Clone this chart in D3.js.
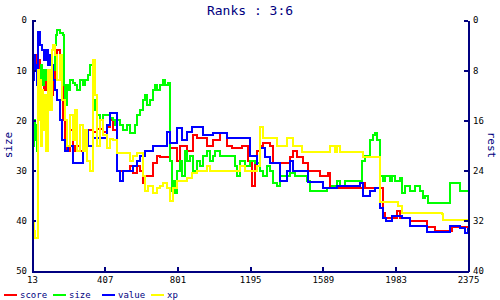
<!DOCTYPE html>
<html>
<head>
<meta charset="utf-8">
<script src="https://cdn.jsdelivr.net/npm/d3@7"></script>
<style>
  body { margin: 0; background: #fff; }
  text { font-family: "DejaVu Sans Mono", monospace; }
</style>
</head>
<body>
<div id="chart"></div>
<script>
// tick labels
var xTicks = [13, 407, 801, 1195, 1589, 1983, 2375];
var leftTicks = [0, 10, 20, 30, 40, 50];
var rightTicks = [0, 8, 16, 24, 32, 40];

var names = ["score", "size", "value", "xp"];
var colours = ["#ff0000", "#00ff00", "#0000ff", "#ffff00"];

// [turn, rank] step points
var score = [[13,9],[18,12],[24,8],[29,10],[35,7],[40,9],[46,11],[51,8],[56,10],[62,11],[67,12],[73,10],[78,14],[89,11],[100,15],[111,17],[121,15],[127,12],[138,7],[148,6],[165,8],[176,10],[181,20],[192,24],[203,26],[219,22],[235,26],[246,25],[273,26],[289,23],[316,22],[343,22.3],[365,21.8],[398,22.3],[419,21.3],[436,20],[452,22],[473,30],[506,30],[544,29],[560,30.5],[582,29],[598,30],[614,32.5],[625,31],[641,31],[668,28.5],[690,27],[706,27.3],[744,27.3],[761,25.5],[799,28],[815,25],[853,26],[885,23],[907,23.5],[939,23.5],[961,25],[994,24],[1031,22.5],[1069,25],[1096,25.5],[1151,25],[1183,28],[1204,33],[1221,28],[1232,26],[1248,25],[1264,24.5],[1302,25],[1319,28.5],[1410,27.3],[1427,26],[1448,27.3],[1481,28.5],[1508,30],[1573,31],[1600,31],[1616,30.5],[1627,33.5],[1790,33.5],[1806,32.5],[1817,33.5],[1898,33.5],[1914,38.5],[1925,39.5],[1990,38],[2006,39.5],[2060,40],[2153,41.2],[2196,42],[2250,42],[2290,41.2],[2375,41.2]];

var size = [[13,22],[18,25],[24,20],[29,24],[35,21],[40,26],[46,13],[51,10],[56,12],[62,9],[67,11],[73,13],[78,10],[89,12],[100,11],[111,13],[121,12],[127,10],[138,5],[143,3],[148,2],[165,2.5],[181,3],[186,13],[192,17],[203,13],[208,14],[219,12],[235,12.5],[246,13],[257,14],[273,12],[289,13],[300,12],[316,11],[327,9],[343,16],[354,18],[365,19],[381,20],[398,19],[419,19],[436,19.5],[452,20],[463,21],[473,20],[490,21],[506,22],[528,21],[544,22.5],[571,21],[582,19],[598,18],[614,16],[625,15],[636,17],[652,16],[668,14],[679,13],[690,14],[706,13],[723,12],[734,13],[750,12.5],[761,28],[771,34],[777,32],[788,34.5],[799,30],[815,28],[826,31],[842,26],[853,28],[869,27],[885,30],[907,28],[923,29],[939,27],[961,26],[977,28],[994,27],[1004,26],[1031,27],[1086,27],[1113,29],[1123,31],[1140,28],[1167,29],[1194,28],[1221,28.5],[1248,30],[1264,31],[1286,29],[1302,30],[1319,32.5],[1340,33],[1356,31],[1383,31],[1410,30.5],[1437,31],[1465,31],[1492,31],[1502,32],[1519,34],[1573,34],[1611,33.5],[1638,33],[1665,32],[1681,33],[1708,32],[1752,32],[1800,28],[1817,27],[1844,24],[1860,23],[1871,22.5],[1882,24],[1898,31],[1914,32],[1925,31],[1952,32],[1963,31],[1979,32],[2006,31.5],[2017,34.5],[2033,33],[2060,34],[2088,33],[2115,34],[2131,35.5],[2142,35],[2158,36.5],[2250,36.5],[2277,32.5],[2331,34],[2375,34]];

var value = [[13,8],[18,12],[24,7],[29,10],[35,9],[40,13],[46,2.4],[56,5],[67,6],[78,8],[89,6],[100,9],[111,7],[121,9],[127,12],[138,14],[148,16],[165,20],[176,24],[192,26],[208,25],[235,28.5],[273,28.5],[289,24],[300,22],[316,25],[343,23.5],[398,23.5],[419,21],[436,18.5],[452,18.5],[473,30],[490,32],[506,30],[544,30],[560,29],[582,28],[598,27],[625,26],[652,26],[668,25],[690,25],[723,25],[744,22.3],[761,24.5],[799,21.5],[826,24],[853,22.3],[880,21.3],[923,21.3],[939,23],[994,22.5],[1048,22.5],[1069,23.5],[1178,23.5],[1194,27],[1232,29],[1248,25.5],[1275,27.3],[1302,28.5],[1356,32],[1394,30],[1410,28],[1427,30],[1465,30],[1508,32.3],[1589,33.5],[1665,33],[1719,33],[1790,32.5],[1806,35],[1844,34],[1871,33.5],[1898,37.5],[1914,39.5],[1930,40],[1963,39],[2017,39.5],[2060,41],[2153,42.3],[2277,41],[2331,41.5],[2358,42.5],[2375,41.5]];

var xp = [[13,36],[18,40],[24,42],[29,43.5],[40,43.5],[46,10],[51,20],[56,12],[62,25],[67,14],[73,22],[78,15],[89,26],[100,10],[111,18],[121,6],[127,5],[138,7],[148,12],[165,7],[176,16],[192,20],[203,25],[219,19],[235,24],[246,18],[257,26],[273,21],[289,26],[300,22],[311,28],[327,30],[343,8],[354,15],[365,25],[381,20],[398,23],[419,25.5],[436,23.8],[452,24],[473,26.5],[528,26.5],[544,28],[560,27],[582,26.5],[614,31],[625,34],[641,33],[668,34.5],[690,33.5],[706,33],[723,32.5],[744,33.5],[761,36],[777,33.5],[799,32],[853,31.5],[880,30.5],[907,30],[961,29],[977,30],[1113,30],[1140,29],[1167,30],[1232,29],[1248,21.3],[1264,23.5],[1340,25],[1394,23.5],[1427,25],[1475,26.3],[1627,25],[1654,26.3],[1665,25],[1681,26.3],[1698,26.3],[1806,27.3],[1898,36.2],[1995,37],[2017,38.5],[2234,38.6],[2240,39.8],[2375,39.8]];

var series = [score, size, value, xp];

var width = 500, height = 300;
var navy = "#000080";

var svg = d3.select("#chart")
    .append("svg")
    .attr("width", width)
    .attr("height", height);

var x = d3.scaleLinear().domain([13, 2375]).range([32, 468]);
var y = d3.scaleLinear().domain([0, 50]).range([20, 271]);
var yRight = d3.scaleLinear().domain([0, 40]).range([20, 271]);

var line = d3.line()
    .x(function (d) { return Math.round(x(d[0])); })
    .y(function (d) { return Math.round(y(d[1])); })
    .curve(d3.curveStepAfter);

series.forEach(function (s, i) {
    svg.append("path")
        .datum(s)
        .attr("d", line)
        .attr("fill", "none")
        .attr("stroke", colours[i])
        .attr("stroke-width", 2)
        .attr("shape-rendering", "crispEdges");
});

function styleAxis(g) {
    g.select(".domain").attr("stroke", navy).attr("stroke-width", 2);
    g.selectAll(".tick line").attr("stroke", navy).attr("stroke-width", 2);
    g.selectAll(".tick text").attr("fill", "#000").style("font-size", "9px")
        .style("font-family", "'DejaVu Sans Mono', monospace");
    g.attr("shape-rendering", "crispEdges");
}

svg.append("g")
    .attr("transform", "translate(32,0)")
    .call(d3.axisLeft(y).tickValues(leftTicks).tickSize(-4).tickSizeOuter(0).tickPadding(5))
    .call(styleAxis);

svg.append("g")
    .attr("transform", "translate(468,0)")
    .call(d3.axisRight(yRight).tickValues(rightTicks).tickSize(-4).tickSizeOuter(0).tickPadding(5))
    .call(styleAxis);

svg.append("g")
    .attr("transform", "translate(0,271)")
    .call(d3.axisBottom(x).tickValues(xTicks).tickFormat(d3.format("d"))
        .tickSize(-4).tickSizeOuter(0).tickPadding(6))
    .call(styleAxis);

svg.append("text")
    .attr("x", 250)
    .attr("y", 15)
    .attr("text-anchor", "middle")
    .attr("fill", navy)
    .style("font-size", "13px")
    .text("Ranks : 3:6");

svg.append("text")
    .attr("transform", "translate(12,145) rotate(-90)")
    .attr("text-anchor", "middle")
    .attr("fill", navy)
    .style("font-size", "11px")
    .text("size");

svg.append("text")
    .attr("transform", "translate(488,145) rotate(90)")
    .attr("text-anchor", "middle")
    .attr("fill", navy)
    .style("font-size", "11px")
    .text("rest");

var legend = svg.selectAll(".legend")
    .data(names)
    .enter()
    .append("g")
    .attr("class", "legend")
    .attr("transform", function (d, i) { return "translate(" + (4 + i * 49) + ",295)"; });

legend.append("line")
    .attr("x1", 0).attr("x2", 13)
    .attr("stroke", function (d, i) { return colours[i]; })
    .attr("stroke-width", 2)
    .attr("shape-rendering", "crispEdges");

legend.append("text")
    .attr("x", 16)
    .attr("y", 3)
    .attr("fill", navy)
    .style("font-size", "9px")
    .text(function (d) { return d; });
</script>
</body>
</html>
